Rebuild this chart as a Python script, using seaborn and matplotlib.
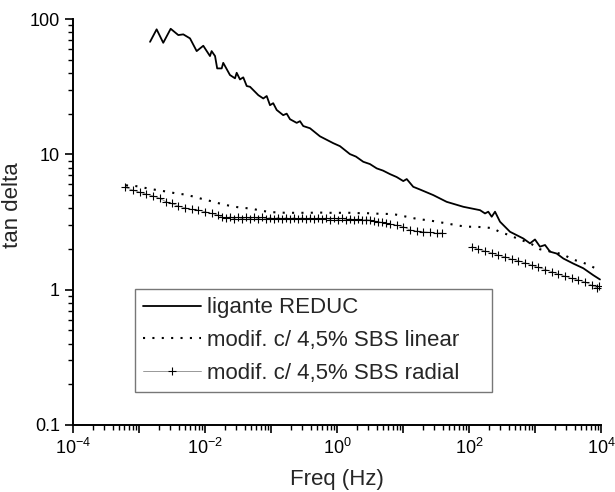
import numpy as np
import pandas as pd
import matplotlib
matplotlib.use("Agg")
import matplotlib.pyplot as plt
import matplotlib.ticker as mticker
import seaborn as sns

# ligante REDUC (solid line)
reduc_freq = [1.47e-3, 1.85e-3, 2.33e-3, 3.02e-3, 3.94e-3, 4.69e-3, 5.93e-3, 7.48e-3,
              9.42e-3, 1.19e-2, 1.26e-2, 1.42e-2, 1.53e-2, 1.79e-2, 1.89e-2, 2.39e-2,
              2.85e-2, 3.02e-2, 3.39e-2, 3.80e-2, 4.29e-2, 4.81e-2, 5.73e-2, 6.43e-2,
              7.64e-2, 8.61e-2, 9.66e-2, 0.108, 0.122, 0.153, 0.173, 0.194, 0.245, 0.275,
              0.308, 0.390, 0.552, 0.879, 1.11, 1.57, 1.94, 2.50, 3.16, 4.00, 4.98, 6.35,
              8.03, 10.1, 11.4, 14.3, 18.1, 28.8, 45.9, 82.0, 147, 175, 196, 221, 248,
              295, 418, 665, 840, 1000, 1190, 1420, 1690, 2130, 2690, 3800, 5400, 7640, 9660]
reduc_tan = [67.9, 84.0, 66.8, 84.8, 76.2, 77.1, 72.0, 58.0,
             63.5, 53.3, 58.0, 53.3, 43.2, 43.2, 47.5, 38.6,
             36.5, 40.1, 35.8, 37.1, 32.0, 31.6, 29.0, 27.4,
             25.9, 27.0, 23.1, 23.9, 21.3, 19.5, 20.0, 18.2, 17.1, 17.6,
             16.2, 15.6, 13.6, 12.1, 11.5, 10.05, 9.63, 8.82, 8.48, 7.88, 7.59, 7.15,
             6.80, 6.35, 6.57, 5.76, 5.50, 5.00, 4.46, 4.10, 3.87, 3.66, 3.77, 3.46, 3.77,
             3.18, 2.68, 2.39, 2.20, 2.35, 2.08, 2.14, 1.91, 1.85, 1.70, 1.56, 1.44, 1.28, 1.19]

# modif. c/ 4,5% SBS linear (dotted line)
linear_freq = [6.35e-4, 8.49e-4, 1.14e-3, 1.52e-3, 2.03e-3, 2.72e-3, 3.64e-3, 4.81e-3,
               6.43e-3, 8.40e-3, 1.08e-2, 1.43e-2, 1.89e-2, 2.48e-2, 3.24e-2, 4.18e-2,
               5.47e-2, 7.23e-2, 9.66e-2, 0.128, 0.169, 0.223, 0.295, 0.390, 0.515, 0.681,
               0.901, 1.19, 1.57, 2.08, 2.75, 3.77, 7.13, 9.55, 12.8, 17.1, 22.9, 30.5,
               40.8, 52.8, 71.3, 95.5, 126, 169, 229, 288, 380, 498, 665, 891, 1190,
               1590, 2070, 2690, 3720, 4920, 6650, 8610]
linear_tan = [5.90, 5.86, 5.70, 5.54, 5.42, 5.29, 5.15, 5.06,
              4.90, 4.73, 4.59, 4.42, 4.27, 4.15, 4.06, 4.01,
              3.94, 3.83, 3.75, 3.72, 3.70, 3.70, 3.70, 3.70, 3.72, 3.70,
              3.70, 3.70, 3.70, 3.68, 3.68, 3.65, 3.62, 3.52, 3.42, 3.32, 3.27, 3.20,
              3.12, 3.05, 2.97, 2.92, 2.92, 2.89, 2.85, 2.68, 2.56, 2.43, 2.30, 2.17, 1.99,
              1.93, 1.88, 1.82, 1.67, 1.61, 1.52, 1.42]

# modif. c/ 4,5% SBS radial (+ markers), two measurement segments
radial_freq_a = [6.14e-4, 8.04e-4, 1.04e-3, 1.28e-3, 1.61e-3, 2.08e-3, 2.57e-3, 3.13e-3,
                 3.94e-3, 4.98e-3, 6.28e-3, 7.91e-3, 1.0e-2, 1.26e-2, 1.59e-2,
                 0.0181, 0.0208, 0.0239, 0.0275, 0.0316, 0.0364, 0.0418, 0.0481, 0.0552,
                 0.0635, 0.0731, 0.0840, 0.0966, 0.111, 0.128, 0.147, 0.169, 0.194, 0.223,
                 0.256, 0.295, 0.339, 0.390, 0.449, 0.515, 0.593, 0.681, 0.783, 0.901,
                 1.04, 1.19, 1.37, 1.57, 1.81, 2.08, 2.39, 2.75, 3.16, 3.64, 4.18, 4.81,
                 5.52, 6.35, 8.03, 10.1, 12.8, 16.1, 20.3, 25.6, 32.4, 38.5]
radial_tan_a = [5.70, 5.45, 5.24, 5.09, 4.94, 4.73, 4.46, 4.34,
                4.15, 4.03, 3.92, 3.88, 3.77, 3.66, 3.56,
                3.44, 3.36, 3.45, 3.35, 3.43, 3.34, 3.42, 3.35, 3.43,
                3.34, 3.42, 3.34, 3.41, 3.33, 3.41, 3.33, 3.40, 3.33, 3.40,
                3.32, 3.40, 3.32, 3.39, 3.31, 3.39, 3.31, 3.38, 3.30, 3.38,
                3.30, 3.37, 3.28, 3.35, 3.27, 3.33, 3.25, 3.30, 3.27, 3.22, 3.19, 3.14,
                3.10, 3.05, 3.00, 2.92, 2.76, 2.71, 2.68, 2.65, 2.61, 2.63]
radial_freq_b = [110, 138, 175, 221, 278, 351, 443, 558, 705, 891, 1120, 1420, 1790,
                 2260, 2850, 3600, 4530, 5730, 7220, 8610, 9300]
radial_tan_b = [2.08, 1.99, 1.93, 1.87, 1.80, 1.75, 1.68, 1.64, 1.58, 1.52, 1.46, 1.41,
                1.36, 1.30, 1.26, 1.21, 1.18, 1.14, 1.08, 1.03, 1.06]

labels = ["ligante REDUC", "modif. c/ 4,5% SBS linear", "modif. c/ 4,5% SBS radial"]

sns.set_theme(style="ticks")
plt.rcParams["font.family"] = ["Liberation Sans", "DejaVu Sans"]
plt.rcParams["mathtext.fontset"] = "custom"
plt.rcParams["mathtext.rm"] = "Liberation Sans"

fig = plt.figure(figsize=(6.15, 4.92), dpi=100)
ax = fig.add_axes([0.1187, 0.1362, 0.8585, 0.825])

df_reduc = pd.DataFrame({"f": reduc_freq, "t": reduc_tan})
df_lin = pd.DataFrame({"f": linear_freq, "t": linear_tan})
df_rad_a = pd.DataFrame({"f": radial_freq_a, "t": radial_tan_a})
df_rad_b = pd.DataFrame({"f": radial_freq_b, "t": radial_tan_b})

sns.lineplot(data=df_reduc, x="f", y="t", ax=ax, color="black", lw=1.3,
             estimator=None, sort=False, label=labels[0])
sns.lineplot(data=df_lin, x="f", y="t", ax=ax, color="black", lw=1.5,
             linestyle=(0, (1, 3.5)), estimator=None, sort=False, label=labels[1])
for i, d in enumerate([df_rad_a, df_rad_b]):
    sns.lineplot(data=d, x="f", y="t", ax=ax, color="#888888", lw=0.6,
                 marker="+", markersize=6, markeredgecolor="black", markeredgewidth=0.8,
                 estimator=None, sort=False, label=labels[2] if i == 0 else None)

ax.set_xscale("log")
ax.set_yscale("log")
ax.set_xlim(1e-4, 1e4)
ax.set_ylim(0.1, 100)

ax.xaxis.set_major_locator(mticker.LogLocator(base=10, numticks=20))
ax.xaxis.set_minor_locator(mticker.LogLocator(base=10, subs=np.arange(2, 10), numticks=100))


def xfmt(v, pos):
    e = int(round(np.log10(v)))
    return r"$10^{%d}$" % e if e % 2 == 0 else ""


ax.xaxis.set_major_formatter(mticker.FuncFormatter(xfmt))
ax.yaxis.set_major_locator(mticker.FixedLocator([0.1, 1, 10, 100]))
ax.yaxis.set_major_formatter(mticker.FixedFormatter(["0.1", "1", "10", "100"]))
ax.yaxis.set_minor_locator(mticker.LogLocator(base=10, subs=np.arange(2, 10), numticks=100))
ax.yaxis.set_minor_formatter(mticker.NullFormatter())
ax.xaxis.set_minor_formatter(mticker.NullFormatter())

ax.tick_params(which="major", direction="out", length=6, width=1.2, colors="black",
               labelsize=13)
ax.tick_params(which="minor", direction="out", length=3.5, width=1.0, colors="black")
sns.despine(ax=ax)
for s in ["left", "bottom"]:
    ax.spines[s].set_linewidth(1.4)
    ax.spines[s].set_color("black")

ax.set_xlabel("Freq (Hz)", fontsize=16, labelpad=8)
ax.set_ylabel("tan delta", fontsize=16)
ax.yaxis.set_label_coords(-0.095, 0.542)

leg = ax.legend(loc="lower left", bbox_to_anchor=(0.117, 0.081, 0.677, 0.256),
                mode="expand", fontsize=16, frameon=True, fancybox=False,
                handlelength=2.6, handletextpad=0.3, borderpad=0.37, labelspacing=0.53,
                borderaxespad=0)
leg.get_frame().set_edgecolor("#555555")
leg.get_frame().set_linewidth(1.0)

fig.savefig("out.png", dpi=100)
